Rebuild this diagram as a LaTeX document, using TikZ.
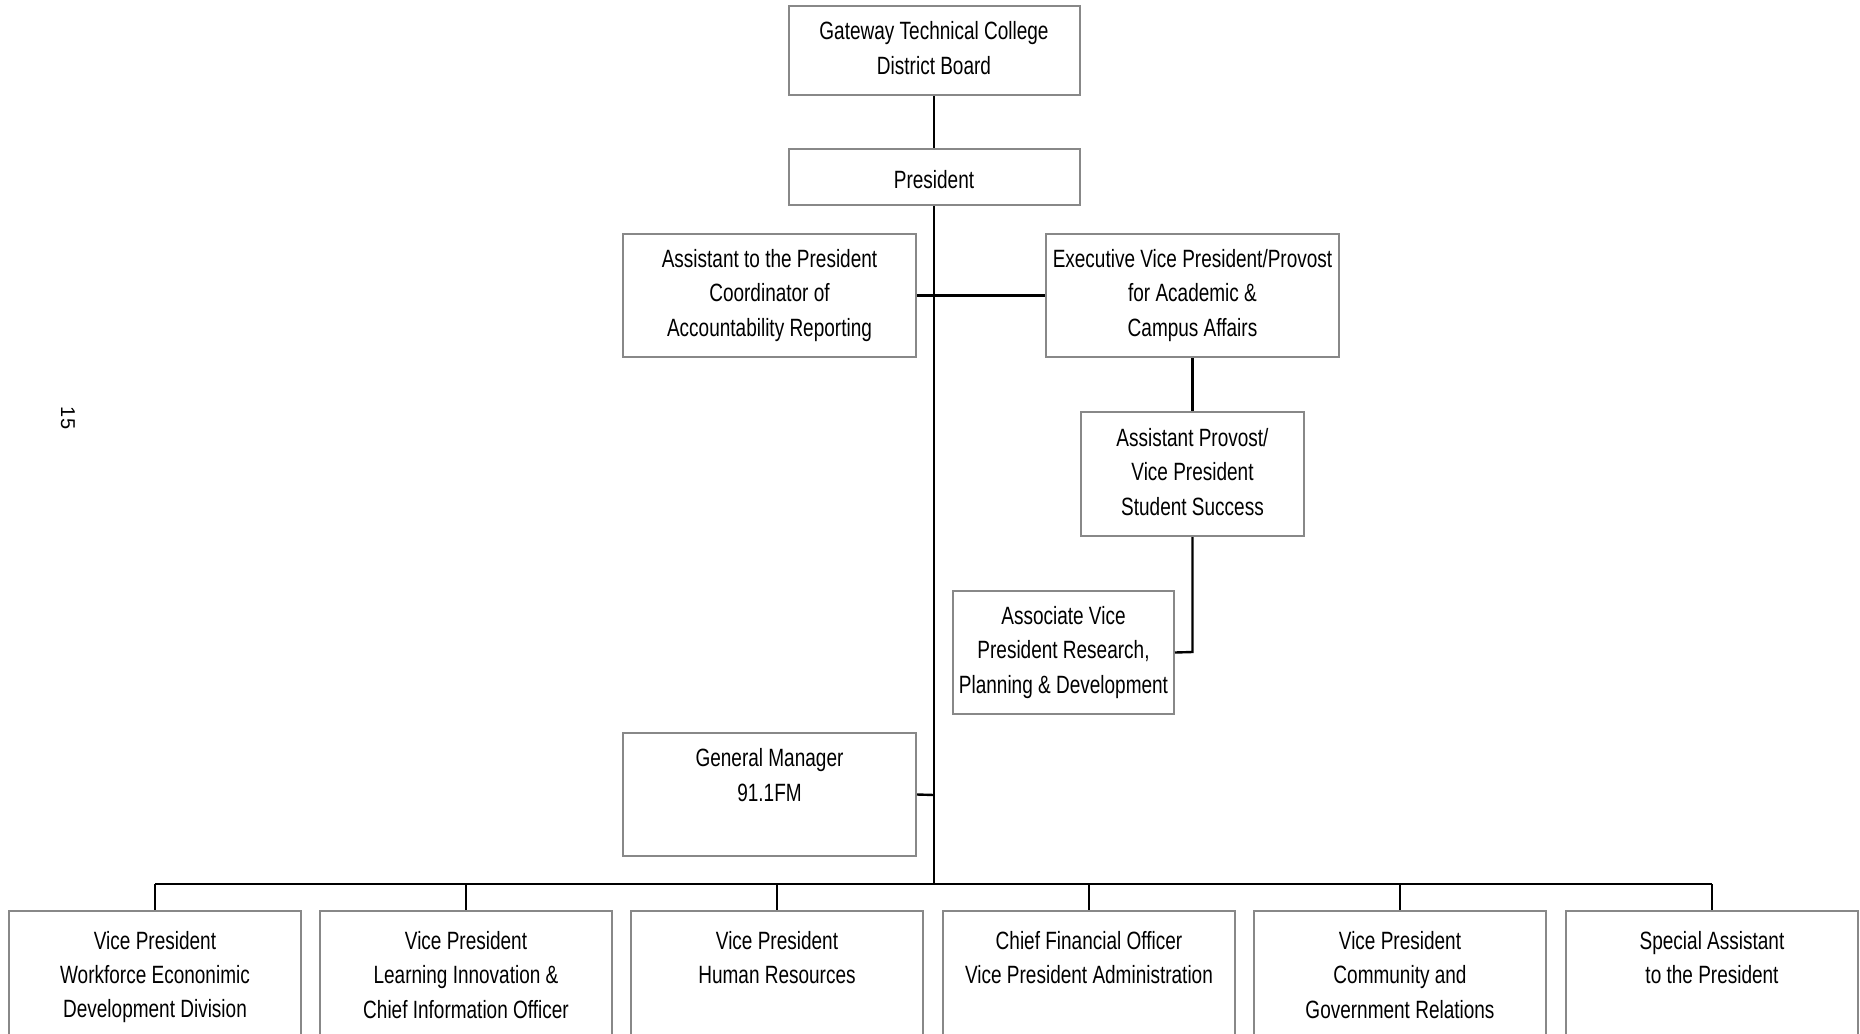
\documentclass[tikz,border=0pt]{standalone}
\usepackage{fontspec}
\setmainfont[FakeStretch=0.76]{Liberation Sans}
\newfontfamily\pagefont{Liberation Sans}
\newcommand{\orgstrut}{\rule[-2.4pt]{0pt}{17.2pt}}
\begin{document}
\begin{tikzpicture}[x=0.5pt,y=-0.5pt,
  orgbox/.style={draw={rgb,255:red,136;green,136;blue,136}, line width=1pt, fill=white,
    align=center, inner sep=0pt,
    font=\fontsize{12.5pt}{17.2pt}\selectfont,
    execute at begin node=\orgstrut, execute at end node=\orgstrut},
  conn/.style={draw=black, line width=1.2pt},
  drop/.style={draw=black, line width=0.7pt}]
\useasboundingbox (0,0) rectangle (1860,1034);
\clip (0,0) rectangle (1860,1034);
\fill[white] (0,0) rectangle (1860,1034);

% boxes
\node[orgbox, minimum width=145.5pt, minimum height=44.5pt] (board) at (934,50.5) {Gateway Technical College\\District Board};
\node[orgbox, minimum width=145.5pt, minimum height=28pt] (pres) at (934,177) {\raisebox{0.5pt}{President}};
\node[orgbox, minimum width=146.5pt, minimum height=61.5pt] (asst) at (769.5,295.5) {Assistant to the President\\Coordinator of\\Accountability Reporting};
\node[orgbox, minimum width=146.5pt, minimum height=61.5pt] (evp) at (1192.5,295.5) {Executive Vice President/Provost\\for Academic \&\\Campus Affairs};
\node[orgbox, minimum width=111.5pt, minimum height=62pt] (aprov) at (1192.5,474) {Assistant Provost/\\Vice President\\Student Success};
\node[orgbox, minimum width=110.5pt, minimum height=61.5pt] (assoc) at (1063.5,652.5) {Associate Vice\\President Research,\\Planning \& Development};
\node[orgbox, minimum width=146.5pt, minimum height=61.5pt] (gm) at (769.5,794.5) {General Manager\\91.1FM\\\mbox{}};

\node[orgbox, minimum width=146pt, minimum height=66pt] (b1) at (155,977) {Vice President\\Workforce Econonimic\\Development Division};
\node[orgbox, minimum width=146pt, minimum height=66pt] (b2) at (466,977) {Vice President\\Learning Innovation \&\\Chief Information Officer};
\node[orgbox, minimum width=146pt, minimum height=66pt] (b3) at (777,977) {Vice President\\Human Resources\\\mbox{}};
\node[orgbox, minimum width=146pt, minimum height=66pt] (b4) at (1089,977) {Chief Financial Officer\\Vice President Administration\\\mbox{}};
\node[orgbox, minimum width=146pt, minimum height=66pt] (b5) at (1400,977) {Vice President\\Community and\\Government Relations};
\node[orgbox, minimum width=146pt, minimum height=66pt] (b6) at (1712,977) {Special Assistant\\to the President\\\mbox{}};

% coordinates
\coordinate (bus) at (934,884);
\coordinate (gmj) at (934,795);
\coordinate (elbow) at (1192.5,652);

% connectors
\draw[conn] (board.south) -- (pres.north);
\draw[conn] (pres.south) -- (bus);
\draw[conn] (asst.east) -- (evp.west);
\draw[conn] (evp.south) -- (aprov.north);
\draw[conn] (aprov.south) -- (elbow) -- (assoc.east);
\draw[conn] (gm.east) -- (gmj);
\draw[conn] (b1.north |- bus) -- (b6.north |- bus);
\foreach \b in {b1,b2,b3,b4,b5,b6}
  \draw[drop] (\b.north |- bus) -- (\b.north);

% page number
\node[font=\pagefont\fontsize{10pt}{11pt}\selectfont, rotate=-90, inner sep=0pt] (pnum) at (68,418) {15};
\end{tikzpicture}
\end{document}
